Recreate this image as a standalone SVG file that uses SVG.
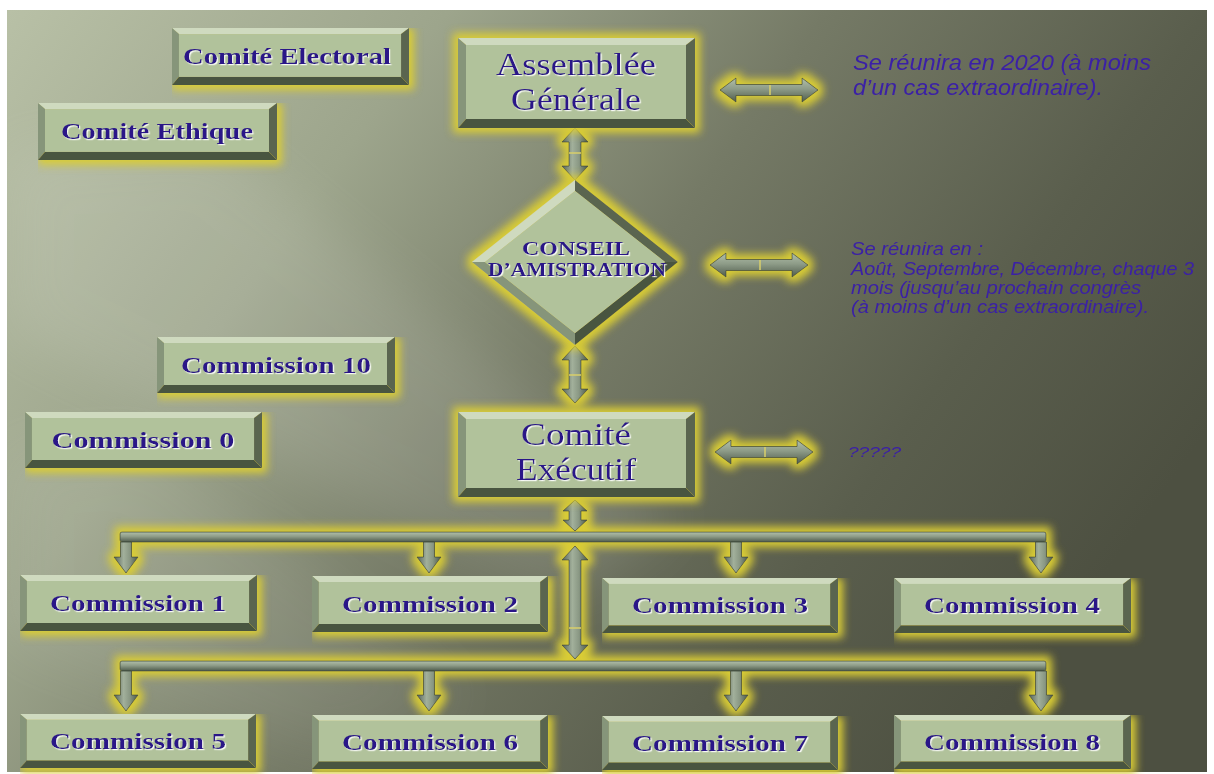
<svg xmlns="http://www.w3.org/2000/svg" width="1214" height="774" viewBox="0 0 1214 774">
<style>
.bt{fill:#cfdabf}.bl{fill:#86957a}.br{fill:#5a6550}.bb{fill:#4a5441}.face{fill:#b1c29b}
.glow{filter:url(#glow)}
.lbl{font-family:"Liberation Serif","Times New Roman",serif;font-weight:bold;font-size:24px;fill:#2a1888;text-anchor:middle;filter:url(#ts)}
.big{font-family:"Liberation Serif","Times New Roman",serif;font-size:32px;fill:#2a1888;text-anchor:middle;filter:url(#ts)}
.dia{font-family:"Liberation Serif","Times New Roman",serif;font-weight:bold;font-size:19px;fill:#2a1888;text-anchor:middle;filter:url(#ts)}
.note{font-family:"Liberation Sans",Arial,sans-serif;font-style:italic;fill:#3b20a6}
.metal{fill:url(#mh);stroke:#3e4a3b;stroke-width:0.8}
.metalv{fill:url(#mv);stroke:#3e4a3b;stroke-width:0.8}
.seam{stroke:#d8cf6a;stroke-width:1.5}
</style>
<defs>
<linearGradient id="bg" x1="0" y1="0" x2="1000" y2="720" gradientUnits="userSpaceOnUse">
<stop offset="0" stop-color="#b9c1a7"/><stop offset="0.3" stop-color="#9da58c"/><stop offset="0.55" stop-color="#757a66"/><stop offset="0.8" stop-color="#5a5e4d"/><stop offset="1" stop-color="#4d5041"/>
</linearGradient>
<linearGradient id="mh" x1="0" y1="0" x2="0" y2="1">
<stop offset="0" stop-color="#b2c0aa"/><stop offset="0.45" stop-color="#8e9c88"/><stop offset="1" stop-color="#4f5b4c"/>
</linearGradient>
<linearGradient id="mv" x1="0" y1="0" x2="1" y2="0">
<stop offset="0" stop-color="#56625a"/><stop offset="0.4" stop-color="#a2b09b"/><stop offset="0.65" stop-color="#8a9884"/><stop offset="1" stop-color="#4b574a"/>
</linearGradient>
<filter id="glow" filterUnits="userSpaceOnUse" x="0" y="0" width="1214" height="774">
<feMorphology in="SourceAlpha" operator="dilate" radius="5" result="d"/>
<feGaussianBlur in="d" stdDeviation="4" result="b"/>
<feFlood flood-color="#d9cc35"/>
<feComposite in2="b" operator="in" result="g"/>
<feMerge><feMergeNode in="g"/><feMergeNode in="SourceGraphic"/></feMerge>
</filter>
<filter id="ts" x="-10%" y="-30%" width="120%" height="160%">
<feDropShadow dx="1.2" dy="1.2" stdDeviation="0.4" flood-color="#ffffff" flood-opacity="0.9"/>
</filter>
<filter id="soft" x="-50%" y="-50%" width="200%" height="200%">
<feGaussianBlur stdDeviation="28"/>
</filter>
<symbol id="btn" viewBox="0 0 238 56" preserveAspectRatio="none">
<polygon class="bt" points="0,0 238,0 230,6 7,6"/>
<polygon class="bl" points="0,0 7,6 7,48 0,56"/>
<polygon class="br" points="238,0 238,56 230,48 230,6"/>
<polygon class="bb" points="0,56 238,56 230,48 7,48"/>
<rect class="face" x="7" y="6" width="223" height="42"/>
</symbol>
<g id="hdbl">
<path class="metal" d="M0,0 L16,-12 L16,-5.5 L82,-5.5 L82,-12 L98,0 L82,12 L82,5.5 L16,5.5 L16,12 Z"/>
<line class="seam" x1="50" y1="-5" x2="50" y2="5"/>
</g>
<path id="darr" class="metalv" d="M-5.5,0 L5.5,0 L5.5,15 L12,15 L0,31 L-12,15 L-5.5,15 Z"/>
<path id="darr2" class="metalv" d="M-5.5,0 L5.5,0 L5.5,24 L12,24 L0,40 L-12,24 L-5.5,24 Z"/>
</defs>

<rect x="0" y="0" width="1214" height="774" fill="#ffffff"/>
<g id="background">
<rect x="7" y="10" width="1200" height="762" fill="url(#bg)"/>
<polygon points="7,150 220,140 680,520 560,600 7,330" fill="#ffffff" opacity="0.10" filter="url(#soft)"/>
<polygon points="7,450 150,440 470,700 330,760 7,640" fill="#ffffff" opacity="0.07" filter="url(#soft)"/>
</g>

<g id="connectors" class="glow">
<use href="#hdbl" x="720" y="90"/>
<use href="#hdbl" x="710" y="265"/>
<use href="#hdbl" x="715" y="452"/>
<path class="metalv" d="M575,128 L588,142 L581,142 L581,166 L588,166 L575,180 L562,166 L569,166 L569,142 L562,142 Z"/>
<line class="seam" x1="569" y1="153" x2="581" y2="153"/>
<path class="metalv" d="M575,346 L588,360 L581,360 L581,389 L588,389 L575,403 L562,389 L569,389 L569,360 L562,360 Z"/>
<line class="seam" x1="569" y1="375" x2="581" y2="375"/>
<path class="metalv" d="M575,500 L587,511 L581,511 L581,520 L587,520 L575,531 L563,520 L569,520 L569,511 L563,511 Z"/>
<rect class="metal" x="120" y="532" width="926" height="10" rx="2"/>
<rect class="metal" x="120" y="661" width="926" height="10" rx="2"/>
<path class="metalv" d="M575,546 L588,560 L581,560 L581,645 L588,645 L575,659 L562,645 L569,645 L569,560 L562,560 Z"/>
<line class="seam" x1="569" y1="628" x2="581" y2="628"/>
<use href="#darr" x="126" y="542"/>
<use href="#darr" x="429" y="542"/>
<use href="#darr" x="736" y="542"/>
<use href="#darr" x="1041" y="542"/>
<use href="#darr2" x="126" y="671"/>
<use href="#darr2" x="429" y="671"/>
<use href="#darr2" x="736" y="671"/>
<use href="#darr2" x="1041" y="671"/>
</g>

<g id="comite-electoral">
<use href="#btn" class="glow" x="172" y="28" width="237" height="57"/>
<text class="lbl" x="287" y="64" textLength="208" lengthAdjust="spacingAndGlyphs">Comité Electoral</text>
</g>
<g id="comite-ethique">
<use href="#btn" class="glow" x="38" y="103" width="239" height="57"/>
<text class="lbl" x="157" y="139" textLength="192" lengthAdjust="spacingAndGlyphs">Comité Ethique</text>
</g>

<g id="assemblee-generale">
<g class="glow">
<polygon class="bt" points="458,38 695,38 686,45 466,45"/>
<polygon class="bl" points="458,38 466,45 466,119 458,128"/>
<polygon class="br" points="695,38 695,128 686,119 686,45"/>
<polygon class="bb" points="458,128 695,128 686,119 466,119"/>
<rect class="face" x="466" y="45" width="220" height="74"/>
</g>
<text class="big" x="576" y="75" textLength="160" lengthAdjust="spacingAndGlyphs">Assemblée</text>
<text class="big" x="576" y="110" textLength="130" lengthAdjust="spacingAndGlyphs">Générale</text>
</g>

<g id="conseil">
<g class="glow">
<polygon class="bt" points="472,262 575,180 575,191 485,262"/>
<polygon class="br" points="575,180 678,262 665,262 575,191"/>
<polygon class="bb" points="678,262 575,345 575,333 665,262"/>
<polygon class="bl" points="575,345 472,262 485,262 575,333"/>
<polygon class="face" points="485,262 575,191 665,262 575,333"/>
</g>
<text class="dia" x="576" y="255" textLength="108" lengthAdjust="spacingAndGlyphs">CONSEIL</text>
<text class="dia" x="577" y="276" textLength="178" lengthAdjust="spacingAndGlyphs">D’AMISTRATION</text>
</g>

<g id="comite-executif">
<g class="glow">
<polygon class="bt" points="458,412 695,412 686,419 466,419"/>
<polygon class="bl" points="458,412 466,419 466,488 458,497"/>
<polygon class="br" points="695,412 695,497 686,488 686,419"/>
<polygon class="bb" points="458,497 695,497 686,488 466,488"/>
<rect class="face" x="466" y="419" width="220" height="69"/>
</g>
<text class="big" x="576" y="445" textLength="110" lengthAdjust="spacingAndGlyphs">Comité</text>
<text class="big" x="576" y="480" textLength="120" lengthAdjust="spacingAndGlyphs">Exécutif</text>
</g>

<g id="note-ag">
<text class="note" font-size="22"><tspan x="853" y="70" textLength="298" lengthAdjust="spacingAndGlyphs">Se réunira en 2020 (à moins</tspan><tspan x="853" y="95" textLength="250" lengthAdjust="spacingAndGlyphs">d’un cas extraordinaire).</tspan></text>
</g>
<g id="note-ca">
<text class="note" font-size="18.5"><tspan x="851" y="255" textLength="132" lengthAdjust="spacingAndGlyphs">Se réunira en :</tspan><tspan x="851" y="275" textLength="343" lengthAdjust="spacingAndGlyphs">Août, Septembre, Décembre, chaque 3</tspan><tspan x="851" y="294" textLength="290" lengthAdjust="spacingAndGlyphs">mois (jusqu’au prochain congrès</tspan><tspan x="851" y="313" textLength="298" lengthAdjust="spacingAndGlyphs">(à moins d’un cas extraordinaire).</tspan></text>
</g>
<g id="note-ce">
<text class="note" font-size="15" x="848" y="457" textLength="53" lengthAdjust="spacingAndGlyphs">?????</text>
</g>

<g id="commission-10">
<use href="#btn" class="glow" x="157" y="337" width="238" height="56"/>
<text class="lbl" x="276" y="373" textLength="190" lengthAdjust="spacingAndGlyphs">Commission 10</text>
</g>
<g id="commission-0">
<use href="#btn" class="glow" x="25" y="412" width="237" height="56"/>
<text class="lbl" x="143" y="448" textLength="183" lengthAdjust="spacingAndGlyphs">Commission 0</text>
</g>
<g id="commission-1">
<use href="#btn" class="glow" x="20" y="575" width="237" height="56"/>
<text class="lbl" x="138" y="611" textLength="176" lengthAdjust="spacingAndGlyphs">Commission 1</text>
</g>
<g id="commission-2">
<use href="#btn" class="glow" x="312" y="576" width="236" height="56"/>
<text class="lbl" x="430" y="612" textLength="176" lengthAdjust="spacingAndGlyphs">Commission 2</text>
</g>
<g id="commission-3">
<use href="#btn" class="glow" x="602" y="578" width="236" height="55"/>
<text class="lbl" x="720" y="613" textLength="176" lengthAdjust="spacingAndGlyphs">Commission 3</text>
</g>
<g id="commission-4">
<use href="#btn" class="glow" x="894" y="578" width="237" height="55"/>
<text class="lbl" x="1012" y="613" textLength="176" lengthAdjust="spacingAndGlyphs">Commission 4</text>
</g>
<g id="commission-5">
<use href="#btn" class="glow" x="20" y="714" width="236" height="54"/>
<text class="lbl" x="138" y="749" textLength="176" lengthAdjust="spacingAndGlyphs">Commission 5</text>
</g>
<g id="commission-6">
<use href="#btn" class="glow" x="312" y="715" width="236" height="54"/>
<text class="lbl" x="430" y="750" textLength="176" lengthAdjust="spacingAndGlyphs">Commission 6</text>
</g>
<g id="commission-7">
<use href="#btn" class="glow" x="602" y="716" width="236" height="54"/>
<text class="lbl" x="720" y="751" textLength="176" lengthAdjust="spacingAndGlyphs">Commission 7</text>
</g>
<g id="commission-8">
<use href="#btn" class="glow" x="894" y="715" width="237" height="54"/>
<text class="lbl" x="1012" y="750" textLength="176" lengthAdjust="spacingAndGlyphs">Commission 8</text>
</g>
</svg>
